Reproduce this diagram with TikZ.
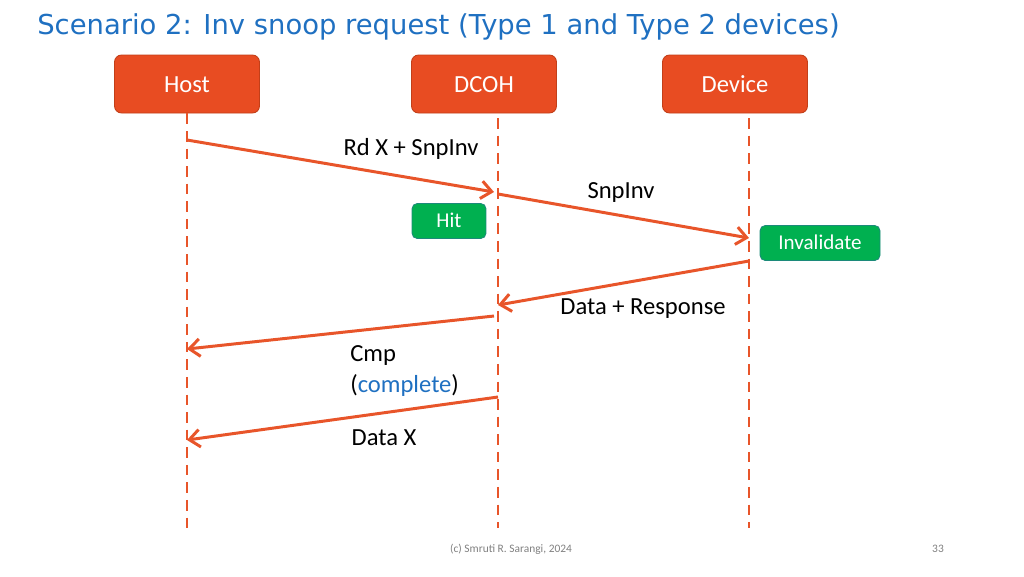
\documentclass[tikz,border=0pt]{standalone}
\usepackage{fontspec}
\setmainfont{Carlito}
\newfontfamily\titlefont{DejaVu Sans}
\usepackage{xcolor}
\usetikzlibrary{arrows.meta, positioning}
\definecolor{boxorange}{HTML}{E84C22}
\definecolor{boxedge}{HTML}{C23F19}
\definecolor{lineorange}{HTML}{E8552A}
\definecolor{hitgreen}{HTML}{00B050}
\definecolor{hitedge}{HTML}{1C8A7A}
\definecolor{titleblue}{HTML}{1F70C1}

\begin{document}
\begin{tikzpicture}[x=0.02cm, y=-0.02cm, >={Straight Barb[length=6pt, width=10pt]},
                    line width=0.5pt,
                    party/.style={draw=boxedge, fill=boxorange, rounded corners=4pt,
                      minimum width=2.9cm, minimum height=1.16cm, text=white,
                      text height=2.3ex, text depth=0.3ex,
                      font=\fontsize{14}{16}\selectfont},
                    state/.style={draw=hitedge, fill=hitgreen, rounded corners=3pt,
                      minimum height=0.7cm, text=white, text height=1.95ex, text depth=0.3ex,
                      font=\fontsize{12}{14}\selectfont},
                    life/.style={draw=lineorange, line width=1.2pt, dash pattern=on 6pt off 4pt},
                    msg/.style={draw=lineorange, line width=1.7pt, ->},
                    lbl/.style={font=\fontsize{14}{17.6}\selectfont}]
  \useasboundingbox (0,0) rectangle (1024,576);

  \node[anchor=west, text=titleblue, font=\titlefont\fontsize{15.6}{19}\selectfont] (title) at (31,27)
    {Scenario 2: Inv snoop request (Type 1 and Type 2 devices)};

  % the three parties
  \node[party] (host) at (187,84) {Host};
  \node[party] (dcoh) at (484,84) {DCOH};
  \node[party] (dev) at (735,84) {Device};

  % lifelines
  \coordinate (hostend) at (187,535);
  \coordinate (dcohtop) at (498,118);
  \coordinate (dcohend) at (498,528);
  \coordinate (devtop) at (749,118);
  \coordinate (devend) at (749,528);
  \draw[life] (host.south) -- (hostend);
  \draw[life] (dcohtop) -- (dcohend);
  \draw[life] (devtop) -- (devend);

  % message end points
  \coordinate (rdout) at (187,140);
  \coordinate (rdin) at (494,192);
  \coordinate (snpout) at (498,194);
  \coordinate (snpin) at (749,238);
  \coordinate (rspout) at (749,261);
  \coordinate (rspin) at (498,305);
  \coordinate (cmpout) at (494,316);
  \coordinate (cmpin) at (187,349);
  \coordinate (dataout) at (498,397);
  \coordinate (datain) at (187,440);

  \draw[msg] (rdout) -- (rdin);
  \draw[msg] (snpout) -- (snpin);
  \draw[msg] (rspout) -- (rspin);
  \draw[msg] (cmpout) -- (cmpin);
  \draw[msg] (dataout) -- (datain);

  \node[lbl] (rdlbl) at (411,149) {Rd X + SnpInv};
  \node[lbl] (snplbl) at (621,192) {SnpInv};
  \node[lbl] (rsplbl) at (643,309) {Data + Response};
  \node[lbl, anchor=west, align=left] (cmplbl) at (344,371) {Cmp\\(\textcolor{titleblue}{complete})};
  \node[lbl] (datalbl) at (384,438) {Data X};

  % states
  \node[state, minimum width=1.48cm] (hit) at (449,221) {Hit};
  \node[state, minimum width=2.4cm] (inval) at (820,243) {Invalidate};

  \node[text=gray, font=\fontsize{6.5}{8}\selectfont] (foot) at (511,549) {(c) Smruti R. Sarangi, 2024};
  \node[text=gray, font=\fontsize{6.5}{8}\selectfont] (page) at (938,549) {33};
\end{tikzpicture}
\end{document}
